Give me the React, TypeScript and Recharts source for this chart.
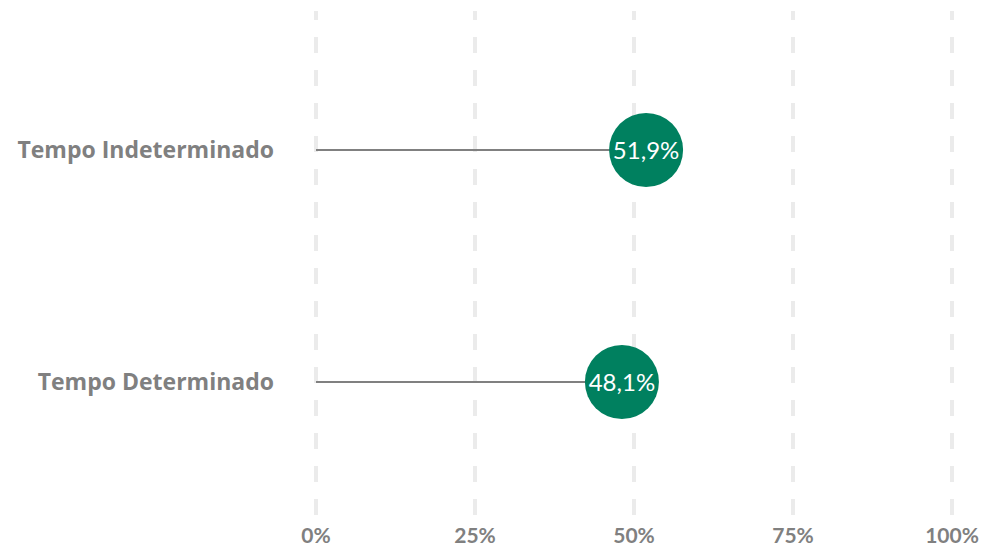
import React from 'react';
import { ComposedChart, Bar, XAxis, YAxis, CartesianGrid } from 'recharts';

const categories = ['Tempo Indeterminado', 'Tempo Determinado'];
const shares = [0.519, 0.481];
const xTicks = [0, 0.25, 0.5, 0.75, 1];

const data = categories.map((name, i) => ({ name, share: shares[i] }));

const GREEN = '#00805f';
const GREY = '#808080';
const FONT = 'Lato, "Open Sans", sans-serif';

const pct = (v: number) => `${Math.round(v * 100)}%`;
const label = (v: number) => `${(v * 100).toFixed(1).replace('.', ',')}%`;

// stem from 0 to the value, with a dot + label at the end
const Lollipop = (props: any) => {
  const { x, y, width, height, value } = props;
  const v = Array.isArray(value) ? value[1] : value;
  const cy = y + height / 2;
  const cx = x + width;
  return (
    <g>
      <line x1={x} y1={cy} x2={cx} y2={cy} stroke={GREY} strokeWidth={2} />
      <circle cx={cx} cy={cy} r={37} fill={GREEN} />
      <text x={cx} y={cy} dy="0.36em" textAnchor="middle" fill="#fff" fontSize={24} fontFamily={FONT}>
        {label(v)}
      </text>
    </g>
  );
};

const App = () => {
  return (
    <div style={{ position: 'absolute', left: 0, top: 0, background: '#fff' }}>
      <ComposedChart
        width={987}
        height={550}
        data={data}
        layout="vertical"
        margin={{ top: 11, right: 35, bottom: 0, left: 0 }}
      >
        <CartesianGrid
          horizontal={false}
          vertical={true}
          stroke="#ebebeb"
          strokeWidth={4}
          strokeDasharray="16 17"
          strokeDashoffset={7}
        />
        <XAxis
          type="number"
          domain={[0, 1]}
          ticks={xTicks}
          tickFormatter={pct}
          axisLine={false}
          tickLine={false}
          tickSize={0}
          tickMargin={6}
          height={28}
          interval={0}
          tick={{ fill: GREY, fontSize: 21, fontWeight: 700, fontFamily: FONT }}
        />
        <YAxis
          type="category"
          dataKey="name"
          width={316}
          axisLine={false}
          tickLine={false}
          tickSize={0}
          tickMargin={42}
          padding={{ top: 23, bottom: 24 }}
          tick={{ fill: GREY, fontSize: 23, fontWeight: 700, fontFamily: '"Open Sans", sans-serif' }}
        />
        <Bar dataKey="share" barSize={20} shape={<Lollipop />} isAnimationActive={false} />
      </ComposedChart>
    </div>
  );
};

export default App;
